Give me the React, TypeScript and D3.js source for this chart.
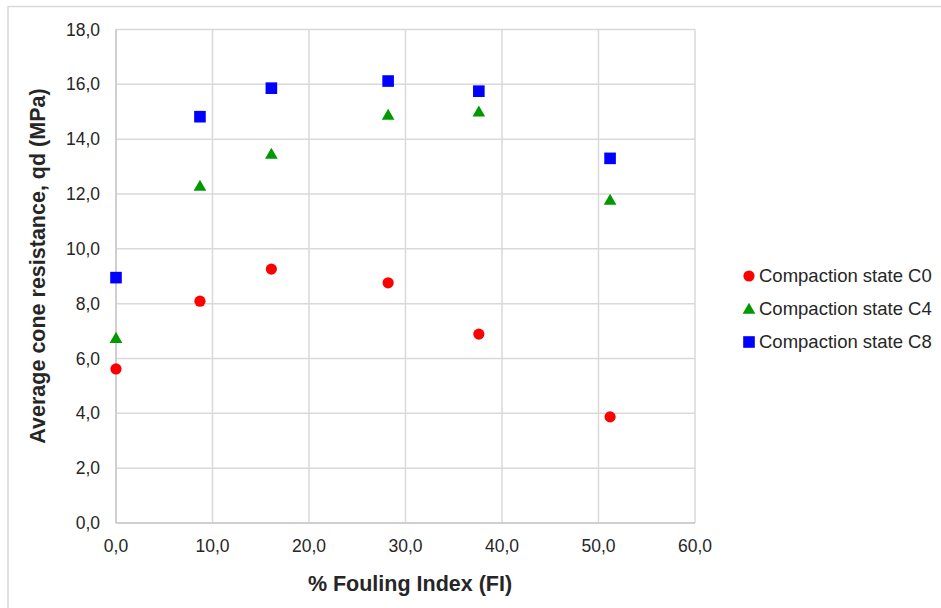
import React from 'react';
import * as d3 from 'd3';

const fouling = [0.0, 8.7, 16.1, 28.2, 37.6, 51.2];
const c0 = [5.62, 8.09, 9.26, 8.76, 6.89, 3.87];
const c4 = [6.74, 12.29, 13.46, 14.88, 15.0, 11.78];
const c8 = [8.95, 14.82, 15.86, 16.12, 15.75, 13.3];
const seriesNames = ['Compaction state C0', 'Compaction state C4', 'Compaction state C8'];
const seriesColors = ['#ff0000', '#009900', '#0000ff'];
const xTicks = [0, 10, 20, 30, 40, 50, 60];
const yTicks = [0, 2, 4, 6, 8, 10, 12, 14, 16, 18];

const W = 941;
const H = 608;
const fmt = (v: number) => v.toFixed(1).replace('.', ',');

function Marker({ kind, x, y, color }: { kind: number; x: number; y: number; color: string }) {
    if (kind === 0) return <circle cx={x} cy={y} r={5.6} fill={color} />;
    if (kind === 1) {
        const p = d3.symbol(d3.symbolTriangle, 70)();
        return <path d={p || ''} transform={`translate(${x},${y + 1})`} fill={color} />;
    }
    return <rect x={x - 5.8} y={y - 5.8} width={11.6} height={11.6} fill={color} />;
}

export default function App() {
    const x = d3.scaleLinear().domain([0, 60]).range([116, 695]);
    const y = d3.scaleLinear().domain([0, 18]).range([523, 29.5]);
    const series = [c0, c4, c8];

    return (
        <div style={{ position: 'absolute', left: 0, top: 0 }}>
            <svg width={W} height={H} style={{ display: 'block', fontFamily: '"Liberation Sans", Arial, sans-serif' }}>
                <rect x={0} y={0} width={W} height={H} fill="#fff" />
                <rect x={8} y={6.5} width={W + 20} height={H + 20} fill="none" stroke="#d9d9d9" strokeWidth={1.5} />

                <g>
                    {yTicks.map(t => (
                        <line key={'gy' + t} x1={x(0)} x2={x(60)} y1={y(t)} y2={y(t)} stroke="#d9d9d9" strokeWidth={1.5} />
                    ))}
                    {xTicks.map(t => (
                        <line key={'gx' + t} x1={x(t)} x2={x(t)} y1={y(0)} y2={y(18)} stroke="#d9d9d9" strokeWidth={1.5} />
                    ))}
                    <line x1={x(0)} x2={x(60)} y1={y(0)} y2={y(0)} stroke="#c8c8c8" strokeWidth={1.5} />
                    <line x1={x(0)} x2={x(0)} y1={y(0)} y2={y(18)} stroke="#c8c8c8" strokeWidth={1.5} />
                </g>

                <g fontSize={17.5} fill="#262626">
                    {yTicks.map(t => (
                        <text key={'ty' + t} x={100} y={y(t)} dy="0.35em" textAnchor="end">{fmt(t)}</text>
                    ))}
                    {xTicks.map(t => (
                        <text key={'tx' + t} x={x(t)} y={552} textAnchor="middle">{fmt(t)}</text>
                    ))}
                </g>

                <text x={410} y={591} textAnchor="middle" fontSize={21.5} fontWeight="bold" fill="#262626">
                    % Fouling Index (FI)
                </text>
                <text transform={`translate(45,${266}) rotate(-90)`} textAnchor="middle" fontSize={21.5} fontWeight="bold" fill="#262626">
                    Average cone resistance, qd (MPa)
                </text>

                {series.map((s, si) => (
                    <g key={'s' + si}>
                        {s.map((v, i) => (
                            <Marker key={i} kind={si} x={x(fouling[i])} y={y(v)} color={seriesColors[si]} />
                        ))}
                    </g>
                ))}

                <g>
                    {seriesNames.map((n, i) => (
                        <g key={n} transform={`translate(0,${276 + i * 33})`}>
                            <Marker kind={i} x={749} y={0} color={seriesColors[i]} />
                            <text x={759} y={0} dy="0.35em" fontSize={18.5} fill="#262626">{n}</text>
                        </g>
                    ))}
                </g>
            </svg>
        </div>
    );
}
